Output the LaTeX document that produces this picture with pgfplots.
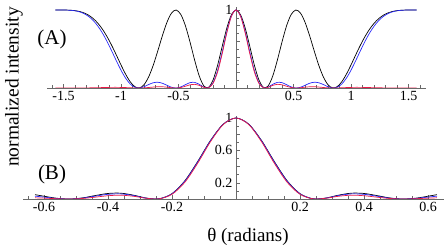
\documentclass[border=0pt]{standalone}
\usepackage{fontspec}
\setmainfont{Liberation Serif}
\usepackage{pgfplots}
\usepackage{pgfplotstable}
\pgfplotsset{compat=1.18}
\definecolor{axgray}{RGB}{105,105,105}
\definecolor{myred}{RGB}{235,25,70}
\definecolor{myblue}{RGB}{40,40,250}

\pgfplotstableread{
t k b r
-1.5708 1 1 0
-1.56 1 1 0
-1.52 .9999 .9999 0
-1.48 .9993 .9991 0
-1.44 .9971 .9964 .0001
-1.40 .9917 .9896 .0002
-1.36 .9808 .9761 .0005
-1.32 .9618 .9525 .0010
-1.28 .9320 .9159 .0017
-1.24 .8883 .8627 .0028
-1.20 .8284 .7912 .0041
-1.16 .7508 .7007 .0056
-1.12 .6551 .5927 .0071
-1.08 .5436 .4722 .0081
-1.04 .4212 .3473 .0083
-1.00 .2955 .2281 .0074
-0.96 .1774 .1261 .0055
-0.92 .0799 .0512 .0029
-0.88 .0169 .0095 .0007
-0.84 .0011 .0005 0
-0.80 .0415 .0165 .0020
-0.76 .1402 .0439 .0064
-0.72 .2906 .0670 .0120
-0.68 .4762 .0738 .0160
-0.64 .6712 .0607 .0157
-0.60 .8439 .0343 .0105
-0.56 .9620 .0092 .0033
-0.52 .9996 .0001 0
-0.48 .9434 .0135 .0063
-0.44 .7986 .0425 .0225
-0.40 .5901 .0684 .0404
-0.36 .3591 .0719 .0469
-0.32 .1557 .0471 .0336
-0.28 .0272 .0114 .0088
-0.24 .0060 .0032 .0026
-0.20 .1005 .0662 .0580
-0.16 .2910 .2240 .2059
-0.12 .5332 .4612 .4398
-0.08 .7683 .7208 .7058
-0.04 .9382 .9235 .9187
0.00 1 1 1
0.04 .9382 .9235 .9187
0.08 .7683 .7208 .7058
0.12 .5332 .4612 .4398
0.16 .2910 .2240 .2059
0.20 .1005 .0662 .0580
0.24 .0060 .0032 .0026
0.28 .0272 .0114 .0088
0.32 .1557 .0471 .0336
0.36 .3591 .0719 .0469
0.40 .5901 .0684 .0404
0.44 .7986 .0425 .0225
0.48 .9434 .0135 .0063
0.52 .9996 .0001 0
0.56 .9620 .0092 .0033
0.60 .8439 .0343 .0105
0.64 .6712 .0607 .0157
0.68 .4762 .0738 .0160
0.72 .2906 .0670 .0120
0.76 .1402 .0439 .0064
0.80 .0415 .0165 .0020
0.84 .0011 .0005 0
0.88 .0169 .0095 .0007
0.92 .0799 .0512 .0029
0.96 .1774 .1261 .0055
1.00 .2955 .2281 .0074
1.04 .4212 .3473 .0083
1.08 .5436 .4722 .0081
1.12 .6551 .5927 .0071
1.16 .7508 .7007 .0056
1.20 .8284 .7912 .0041
1.24 .8883 .8627 .0028
1.28 .9320 .9159 .0017
1.32 .9618 .9525 .0010
1.36 .9808 .9761 .0005
1.40 .9917 .9896 .0002
1.44 .9971 .9964 .0001
1.48 .9993 .9991 0
1.52 .9999 .9999 0
1.56 1 1 0
1.5708 1 1 0
}\dataA

\pgfplotstableread{
t k b r
-0.628 .0536 .0351 .0146
-0.60 .0343 .0234 .0105
-0.56 .0092 .0066 .0033
-0.52 .0001 .0001 0
-0.48 .0135 .0106 .0063
-0.44 .0425 .0348 .0225
-0.40 .0684 .0580 .0404
-0.36 .0719 .0630 .0469
-0.32 .0471 .0424 .0336
-0.28 .0114 .0105 .0088
-0.24 .0032 .0030 .0026
-0.20 .0662 .0636 .0580
-0.16 .2240 .2183 .2059
-0.12 .4612 .4546 .4398
-0.08 .7208 .7162 .7058
-0.04 .9235 .9220 .9187
0.00 1 1 1
0.04 .9235 .9220 .9187
0.08 .7208 .7162 .7058
0.12 .4612 .4546 .4398
0.16 .2240 .2183 .2059
0.20 .0662 .0636 .0580
0.24 .0032 .0030 .0026
0.28 .0114 .0105 .0088
0.32 .0471 .0424 .0336
0.36 .0719 .0630 .0469
0.40 .0684 .0580 .0404
0.44 .0425 .0348 .0225
0.48 .0135 .0106 .0063
0.52 .0001 .0001 0
0.56 .0092 .0066 .0033
0.60 .0343 .0234 .0105
0.628 .0536 .0351 .0146
}\dataB

\pgfplotsset{
  mystyle/.style={
    axis lines=middle,
    axis line style={axgray, line width=0.6pt, -},
    every inner x axis line/.append style={-},
    every inner y axis line/.append style={-},
    tick align=inside,
    major tick length=4pt,
    minor tick length=2.5pt,
    every tick/.style={axgray, line width=0.5pt},
    tick label style={font=\fontsize{14}{14}\selectfont, black},
    clip=true,
  }
}

\begin{document}
\begin{tikzpicture}
\useasboundingbox (0,0) rectangle (448pt,-248pt);

\begin{axis}[mystyle,
  anchor=origin, at={(236pt,-88pt)},
  x=115pt, y=78pt,
  xmin=-1.64, xmax=1.65, ymin=0, ymax=1.04,
  xtick={-1.5,-1,-0.5,0.5,1,1.5},
  xticklabels={-1.5,-1,-0.5,0.5,1,1.5},
  minor xtick={-1.6,-1.4,-1.3,-1.2,-1.1,-0.9,-0.8,-0.7,-0.6,-0.4,-0.3,-0.2,-0.1,0.1,0.2,0.3,0.4,0.6,0.7,0.8,0.9,1.1,1.2,1.3,1.4,1.6},
  ytick={0.2,0.4,0.6,0.8,1},
  yticklabels={,,,,1},
  minor ytick={0.1,0.3,0.5,0.7,0.9},
]
\addplot[black, line width=0.7pt, smooth] table[x=t,y=k] {\dataA};
\addplot[myblue, line width=0.7pt, smooth] table[x=t,y=b] {\dataA};
\addplot[myred, line width=0.7pt, smooth] table[x=t,y=r] {\dataA};
\end{axis}

\begin{axis}[mystyle,
  anchor=origin, at={(236pt,-199pt)},
  x=320pt, y=81pt,
  xmin=-0.665, xmax=0.65, ymin=0, ymax=1.03,
  xtick={-0.6,-0.4,-0.2,0.2,0.4,0.6},
  xticklabels={-0.6,-0.4,-0.2,0.2,0.4,0.6},
  minor xtick={-0.65,-0.55,-0.5,-0.45,-0.35,-0.3,-0.25,-0.15,-0.1,-0.05,0.05,0.1,0.15,0.25,0.3,0.35,0.45,0.5,0.55},
  ytick={0.2,0.4,0.6,0.8,1},
  yticklabels={0.2,,0.6,,1},
  minor ytick={0.1,0.3,0.5,0.7,0.9},
]
\addplot[black, line width=0.7pt, smooth] table[x=t,y=k] {\dataB};
\addplot[myblue, line width=0.7pt, smooth] table[x=t,y=b] {\dataB};
\addplot[myred, line width=0.7pt, smooth] table[x=t,y=r] {\dataB};
\end{axis}

\node[font=\fontsize{21}{21}\selectfont] at (52pt,-39pt) {(A)};
\node[font=\fontsize{21}{21}\selectfont] at (52pt,-174pt) {(B)};
\node[rotate=90, font=\fontsize{19.5}{20}\selectfont] at (14pt,-87pt) {normalized intensity};
\node[font=\fontsize{19}{20}\selectfont] at (248pt,-237pt) {θ (radians)};
\end{tikzpicture}
\end{document}
